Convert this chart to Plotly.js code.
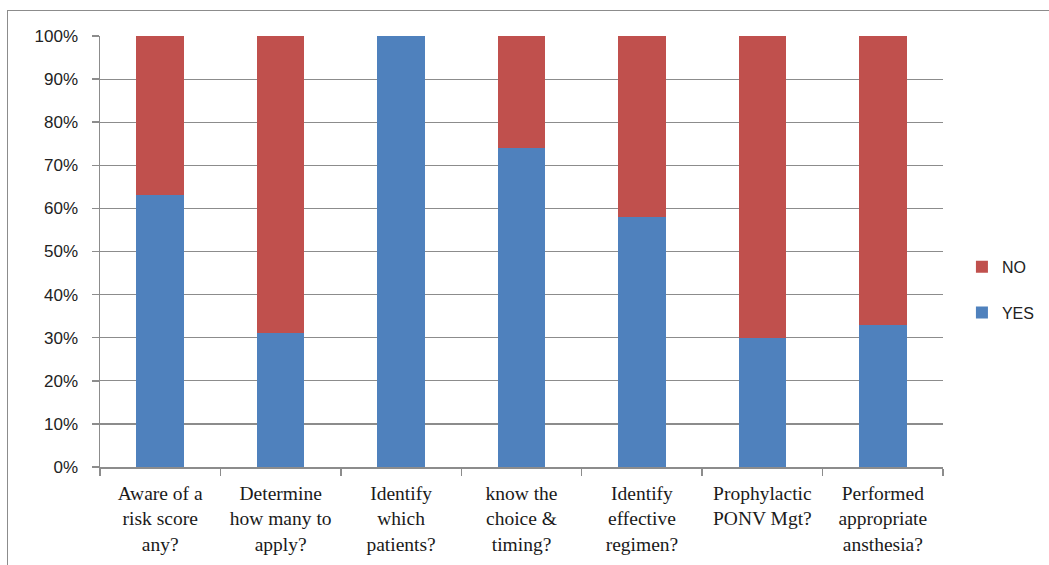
<!DOCTYPE html>
<html>
<head>
<meta charset="utf-8">
<script src="https://cdn.plot.ly/plotly-3.0.1.min.js"></script>
<style>
  html, body { margin: 0; padding: 0; background: #fff; }
  #wrap { position: relative; width: 1049px; height: 565px; overflow: hidden; }
  #chart { width: 1049px; height: 565px; }
  #frame { position: absolute; left: 7px; top: 10px; width: 1100px; height: 600px;
           border-top: 1.5px solid #8c8c8c; border-left: 1.5px solid #8c8c8c; pointer-events: none; }
</style>
</head>
<body>
<div id="wrap">
  <div id="chart"></div>
  <div id="frame"></div>
</div>
<script>
const categories = [
  "Aware of a<br>risk score<br>any?",
  "Determine<br>how many to<br>apply?",
  "Identify<br>which<br>patients?",
  "know the<br>choice &amp;<br>timing?",
  "Identify<br>effective<br>regimen?",
  "Prophylactic<br>PONV Mgt?",
  "Performed<br>appropriate<br>ansthesia?"
];
const yesValues = [63, 31, 100, 74, 58, 30, 33];
const noValues = [37, 69, 0, 26, 42, 70, 67];
const yTickVals = [0, 10, 20, 30, 40, 50, 60, 70, 80, 90, 100];
const yTickText = ["0%", "10%", "20%", "30%", "40%", "50%", "60%", "70%", "80%", "90%", "100%"];

const traces = [
  { type: "bar", name: "YES", x: categories, y: yesValues, legendgroup: "yes", legendrank: 2,
    marker: { color: "#4F81BD", line: { width: 0 } }, hoverinfo: "skip" },
  { type: "bar", name: "NO", x: categories, y: noValues, legendgroup: "no", legendrank: 1,
    marker: { color: "#C0504D", line: { width: 0 } }, hoverinfo: "skip" }
];

const layout = {
  width: 1049, height: 565,
  margin: { l: 100, r: 106, t: 36, b: 98 },
  paper_bgcolor: "#ffffff", plot_bgcolor: "#ffffff",
  barmode: "stack",
  bargap: 0.605,
  showlegend: true,
  legend: {
    xref: "container", yref: "container",
    x: 0.917, y: 0.487, xanchor: "left", yanchor: "middle",
    traceorder: "grouped", tracegroupgap: 22,
    font: { family: "Liberation Sans, Arial, sans-serif", size: 16, color: "#222" },
    bgcolor: "rgba(0,0,0,0)", itemwidth: 30
  },
  xaxis: {
    type: "category",
    tickson: "boundaries",
    ticks: "outside", ticklen: 7, tickcolor: "#8c8c8c", tickwidth: 1.5,
    showline: true, linecolor: "#8c8c8c", linewidth: 1.5,
    showgrid: false, zeroline: false,
    tickfont: { family: "Liberation Serif, Times New Roman, serif", size: 19.5, color: "#1a1a1a" },
    ticklabelstandoff: 8,
    tickangle: 0, fixedrange: true
  },
  yaxis: {
    range: [0, 100],
    tickvals: yTickVals, ticktext: yTickText,
    ticks: "outside", ticklen: 7, tickcolor: "#8c8c8c", tickwidth: 1.5,
    showline: true, linecolor: "#8c8c8c", linewidth: 1.5,
    showgrid: true, gridcolor: "#8c8c8c", gridwidth: 1.2,
    zeroline: false,
    tickfont: { family: "Liberation Sans, Arial, sans-serif", size: 17, color: "#222" },
    ticklabelstandoff: 10,
    fixedrange: true
  }
};

Plotly.newPlot("chart", traces, layout, { displayModeBar: false, staticPlot: true });
</script>
</body>
</html>
